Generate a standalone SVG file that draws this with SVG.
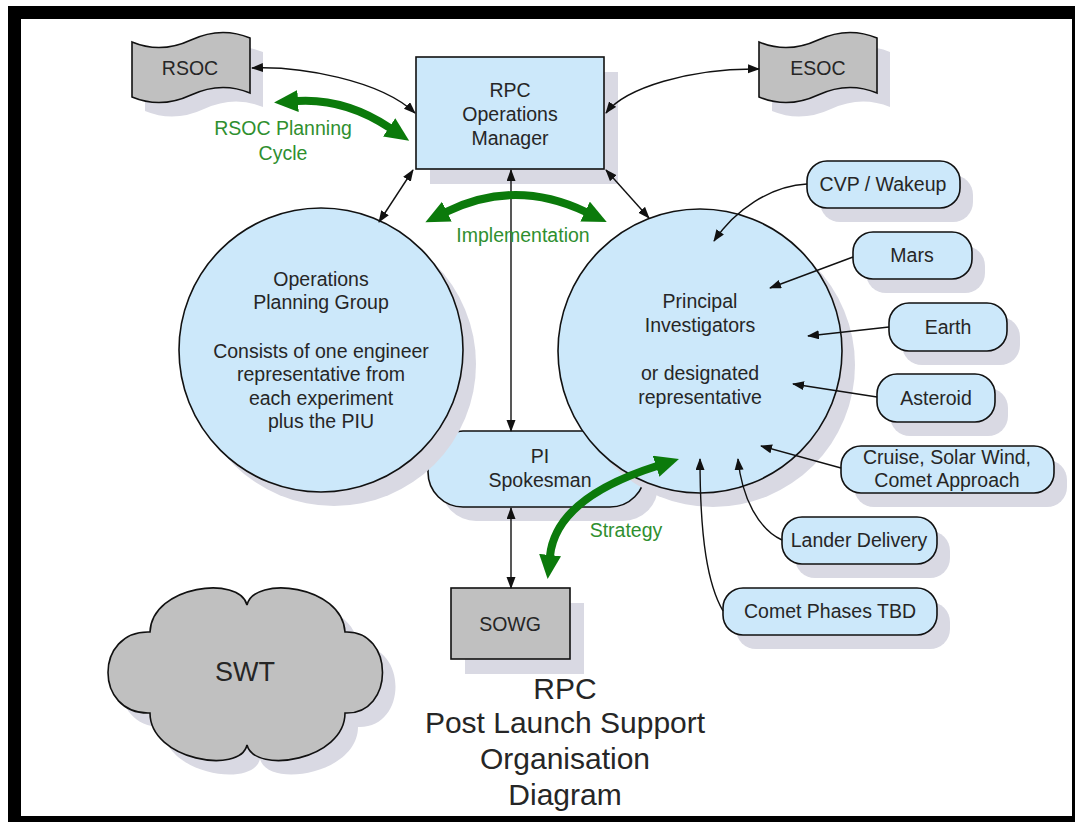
<svg xmlns="http://www.w3.org/2000/svg" width="1075" height="822" viewBox="0 0 1075 822">
<defs>
<style>
.t{font-family:"Liberation Sans",Arial,sans-serif;font-size:19.5px;fill:#262626;text-anchor:middle}
.g{font-family:"Liberation Sans",Arial,sans-serif;font-size:19.5px;fill:#2f8f2f;text-anchor:middle}
.blue{fill:#cce8fa;stroke:#111;stroke-width:1.6}
.gray{fill:#c0c0c0;stroke:#111;stroke-width:1.6}
.sh{fill:#d9d9e3;stroke:none}
.c{fill:none;stroke:#111;stroke-width:1.4}
.ga{fill:none;stroke:#0b7a0b;stroke-width:8}
</style>
<marker id="ah" markerUnits="userSpaceOnUse" markerWidth="13" markerHeight="10" refX="11" refY="4.5" orient="auto-start-reverse"><path d="M0,0 L12,4.5 L0,9 z" fill="#111"/></marker>
<marker id="gh" markerUnits="userSpaceOnUse" markerWidth="26" markerHeight="24" refX="1" refY="11" orient="auto-start-reverse"><path d="M0,0 L24,11 L0,22 z" fill="#0b7a0b"/></marker>
</defs>
<rect x="0" y="0" width="1075" height="822" fill="#fff"/>
<rect x="8" y="6" width="1067" height="816" fill="#000"/>
<rect x="21" y="19" width="1051" height="797" fill="#fff"/>

<g id="rsoc">
<path class="sh" transform="translate(13,14)" d="M132,42 Q161,54 191,40 T250,38 L250,93 Q221,81 191,95 Q161,109 132,97 Z"/>
<path class="gray" d="M132,42 Q161,54 191,40 T250,38 L250,93 Q221,81 191,95 Q161,109 132,97 Z"/>
<text class="t" x="190" y="75">RSOC</text>
</g>
<g id="esoc">
<path class="sh" transform="translate(640,14)" d="M132,42 Q161,54 191,40 T250,38 L250,93 Q221,81 191,95 Q161,109 132,97 Z"/>
<path class="gray" transform="translate(627,0)" d="M132,42 Q161,54 191,40 T250,38 L250,93 Q221,81 191,95 Q161,109 132,97 Z"/>
<text class="t" x="818" y="75">ESOC</text>
</g>
<g id="ops-manager">
<rect class="sh" x="430" y="72" width="188" height="112"/>
<rect class="blue" x="416" y="57" width="188" height="112"/>
<text class="t" x="510" y="97">RPC</text>
<text class="t" x="510" y="121">Operations</text>
<text class="t" x="510" y="145">Manager</text>
</g>
<g id="pi-spokesman">
<rect class="sh" x="441" y="445" width="217" height="76" rx="35"/>
<rect class="blue" x="428" y="431" width="217" height="76" rx="35"/>
<text class="t" x="540" y="463">PI</text>
<text class="t" x="540" y="487">Spokesman</text>
</g>
<g id="ops-planning">
<circle class="sh" cx="334" cy="364" r="142"/>
<circle class="blue" cx="321" cy="350" r="142"/>
<text class="t" x="321" y="286">Operations</text>
<text class="t" x="321" y="309">Planning Group</text>
<text class="t" x="321" y="358">Consists of one engineer</text>
<text class="t" x="321" y="381">representative from</text>
<text class="t" x="321" y="405">each experiment</text>
<text class="t" x="321" y="428">plus the PIU</text>
</g>
<g id="pi">
<circle class="sh" cx="713" cy="365" r="142"/>
<circle class="blue" cx="700" cy="351" r="142"/>
<text class="t" x="700" y="308">Principal</text>
<text class="t" x="700" y="332">Investigators</text>
<text class="t" x="700" y="380">or designated</text>
<text class="t" x="700" y="404">representative</text>
</g>
<g id="cvp">
<rect class="sh" x="820" y="175" width="153" height="47" rx="20"/>
<rect class="blue" x="807" y="161" width="153" height="47" rx="20"/>
<text class="t" x="883" y="191">CVP / Wakeup</text>
</g>
<g id="mars">
<rect class="sh" x="866" y="246" width="119" height="47" rx="20"/>
<rect class="blue" x="853" y="232" width="119" height="47" rx="20"/>
<text class="t" x="912" y="262">Mars</text>
</g>
<g id="earth">
<rect class="sh" x="902" y="317" width="118" height="48" rx="20"/>
<rect class="blue" x="889" y="303" width="118" height="48" rx="20"/>
<text class="t" x="948" y="334">Earth</text>
</g>
<g id="asteroid">
<rect class="sh" x="890" y="388" width="118" height="48" rx="20"/>
<rect class="blue" x="877" y="374" width="118" height="48" rx="20"/>
<text class="t" x="936" y="405">Asteroid</text>
</g>
<g id="cruise">
<rect class="sh" x="854" y="460" width="213" height="47" rx="20"/>
<rect class="blue" x="841" y="446" width="213" height="47" rx="20"/>
<text class="t" x="947" y="464">Cruise, Solar Wind,</text>
<text class="t" x="947" y="487">Comet Approach</text>
</g>
<g id="lander">
<rect class="sh" x="795" y="531" width="155" height="47" rx="20"/>
<rect class="blue" x="782" y="517" width="155" height="47" rx="20"/>
<text class="t" x="859" y="547">Lander Delivery</text>
</g>
<g id="comet">
<rect class="sh" x="736" y="602" width="214" height="47" rx="20"/>
<rect class="blue" x="723" y="588" width="214" height="47" rx="20"/>
<text class="t" x="830" y="618">Comet Phases TBD</text>
</g>
<g id="sowg">
<rect class="sh" x="465" y="603" width="119" height="71"/>
<rect class="gray" x="451" y="588" width="119" height="71"/>
<text class="t" x="510" y="631">SOWG</text>
</g>
<g id="swt">
<path class="sh" transform="translate(13,14)" d="M150,632 C152,585 240,575 247,605 C254,575 342,585 345,632 C395,630 395,715 345,713 C345,760 255,775 247,745 C240,775 150,760 150,713 C94,715 94,630 150,632 Z"/>
<path class="gray" d="M150,632 C152,585 240,575 247,605 C254,575 342,585 345,632 C395,630 395,715 345,713 C345,760 255,775 247,745 C240,775 150,760 150,713 C94,715 94,630 150,632 Z"/>
<text class="t" x="245" y="681" style="font-size:27px">SWT</text>
</g>

<g id="connectors">
<path class="c" d="M252,68 C300,66 380,80 415,113" marker-start="url(#ah)" marker-end="url(#ah)"/>
<path class="c" d="M606,113 C625,88 690,68 759,69" marker-start="url(#ah)" marker-end="url(#ah)"/>
<path class="c" d="M413,170 L379,222" marker-start="url(#ah)" marker-end="url(#ah)"/>
<path class="c" d="M606,170 L649,218" marker-start="url(#ah)" marker-end="url(#ah)"/>
<path class="c" d="M511,170 L511,431" marker-start="url(#ah)" marker-end="url(#ah)"/>
<path class="c" d="M511,508 L511,588" marker-start="url(#ah)" marker-end="url(#ah)"/>
<path class="c" d="M807,184 C770,186 735,210 714,241" marker-end="url(#ah)"/>
<path class="c" d="M853,257 L770,288" marker-end="url(#ah)"/>
<path class="c" d="M889,327 L808,336" marker-end="url(#ah)"/>
<path class="c" d="M877,397 L793,384" marker-end="url(#ah)"/>
<path class="c" d="M841,468 L761,446" marker-end="url(#ah)"/>
<path class="c" d="M782,540 C760,530 742,500 738,459" marker-end="url(#ah)"/>
<path class="c" d="M723,611 C708,585 700,540 700,459" marker-end="url(#ah)"/>
<path class="ga" d="M297,101 Q345,98 390,128" marker-start="url(#gh)" marker-end="url(#gh)"/>
<path class="ga" d="M446,212 Q515,178 586,212" marker-start="url(#gh)" marker-end="url(#gh)"/>
<path class="ga" d="M657,466 Q556,498 550,556" marker-start="url(#gh)" marker-end="url(#gh)"/>
</g>
<g id="labels">
<text class="g" x="283" y="135">RSOC Planning</text>
<text class="g" x="283" y="160">Cycle</text>
<text class="g" x="523" y="242">Implementation</text>
<text class="g" x="626" y="537">Strategy</text>
</g>
<g id="title">
<text class="t" x="565" y="699" style="font-size:30px">RPC</text>
<text class="t" x="565" y="733" style="font-size:30px">Post Launch Support</text>
<text class="t" x="565" y="769" style="font-size:30px">Organisation</text>
<text class="t" x="565" y="805" style="font-size:30px">Diagram</text>
</g>
</svg>
